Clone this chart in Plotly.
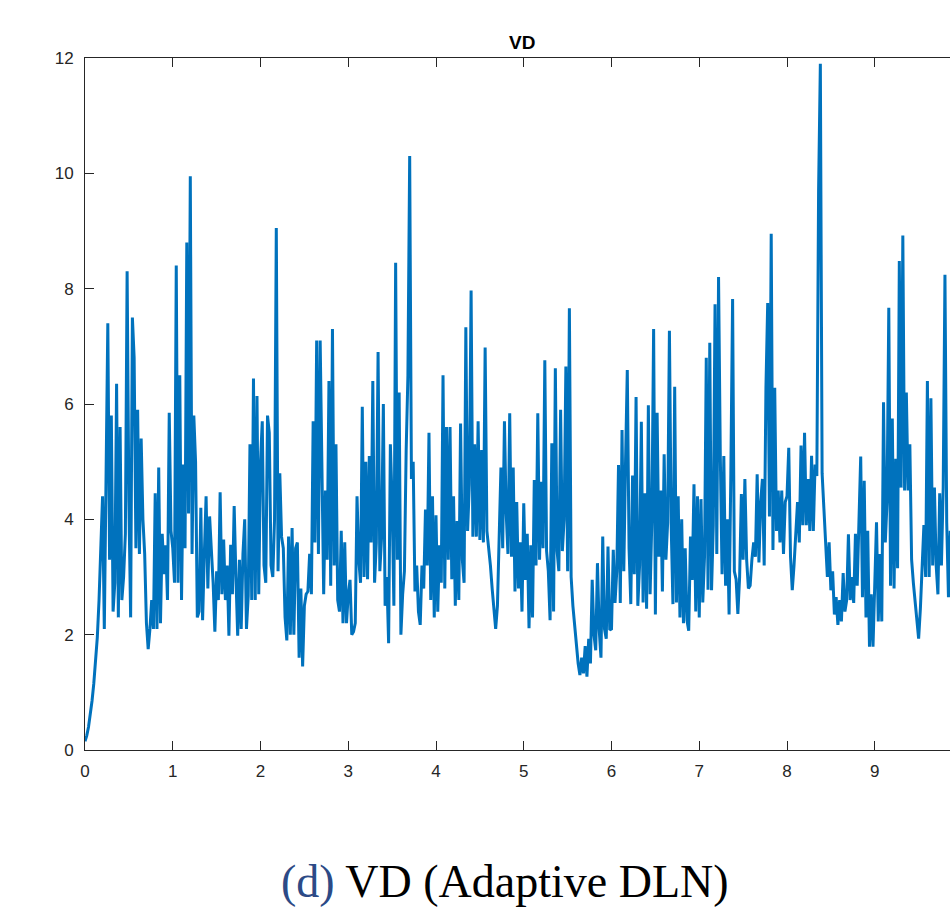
import numpy as np
import plotly.graph_objects as go

# Sampling step of the VD time series (x axis)
dt = 0.02

# VD values, one list per unit of x (50 samples each; last block shorter, cropped view)
vd_0 = [0.15, 0.25, 0.4, 0.6, 0.85, 1.15, 1.5, 1.95, 2.6, 3.7,
        4.4, 2.1, 4.65, 7.4, 3.3, 5.8, 2.4, 2.9, 6.35, 2.3,
        5.6, 2.6, 3.0, 3.75, 8.3, 4.3, 2.3, 7.5, 6.8, 3.5,
        5.9, 3.4, 5.4, 4.0, 3.4, 2.2, 1.75, 2.1, 2.6, 2.1,
        4.45, 2.1, 4.9, 2.2, 3.75, 3.05, 3.55, 2.6, 5.85, 3.8]
vd_1 = [3.5, 2.9, 8.4, 2.9, 6.5, 2.6, 4.95, 3.5, 8.8, 4.1,
        9.95, 3.4, 5.8, 5.0, 2.3, 2.4, 4.2, 2.25, 3.4, 4.4,
        2.8, 4.05, 3.47, 2.9, 2.05, 3.1, 2.6, 4.47, 2.7, 3.65,
        2.6, 3.2, 1.98, 3.56, 2.7, 4.23, 3.0, 1.98, 3.3, 2.1,
        3.4, 4.0, 2.1, 2.67, 5.3, 2.6, 6.44, 2.6, 6.14, 2.7]
vd_2 = [5.0, 5.7, 3.2, 2.9, 5.8, 5.5, 3.2, 3.0, 4.0, 9.05,
        3.1, 4.8, 3.7, 3.5, 2.3, 1.9, 3.7, 2.0, 3.85, 2.0,
        3.5, 3.6, 1.6, 2.8, 1.45, 2.5, 2.7, 2.75, 3.4, 2.7,
        5.7, 3.6, 7.1, 3.4, 7.1, 4.6, 2.7, 4.5, 3.3, 6.4,
        2.85, 7.3, 3.2, 5.3, 2.6, 2.4, 3.8, 2.2, 3.6, 2.2]
vd_3 = [2.7, 2.95, 2.0, 2.05, 2.2, 4.4, 3.3, 2.9, 5.95, 3.0,
        5.0, 2.96, 5.1, 3.6, 6.4, 2.9, 3.6, 6.9, 3.1, 3.7,
        6.0, 2.5, 3.0, 1.85, 5.3, 4.3, 2.5, 8.45, 3.3, 6.2,
        2.0, 2.7, 3.1, 5.2, 6.5, 10.3, 4.7, 5.0, 2.75, 3.2,
        2.4, 2.17, 3.2, 2.8, 4.17, 3.2, 5.5, 2.6, 4.4, 2.3]
vd_4 = [4.07, 2.4, 3.55, 2.9, 6.5, 2.8, 5.6, 3.3, 5.6, 2.96,
        4.4, 2.5, 3.97, 2.6, 5.66, 3.3, 2.9, 7.33, 3.8, 4.6,
        7.97, 3.7, 5.3, 3.7, 5.7, 3.64, 5.2, 3.6, 6.98, 3.8,
        3.55, 3.2, 2.8, 2.5, 2.1, 2.5, 3.8, 4.9, 3.5, 5.7,
        4.1, 3.4, 5.84, 3.35, 4.9, 2.75, 4.3, 2.8, 3.6, 2.4]
vd_5 = [4.28, 2.95, 3.75, 2.11, 3.55, 2.3, 4.68, 3.2, 5.84, 3.3,
        4.65, 3.5, 6.76, 3.45, 3.1, 2.25, 5.32, 2.4, 6.62, 3.45,
        3.1, 5.9, 3.45, 4.0, 6.65, 3.1, 7.66, 3.0, 2.5, 2.13,
        1.8, 1.5, 1.3, 1.6, 1.33, 1.8, 1.27, 1.93, 1.5, 2.95,
        2.0, 1.73, 3.24, 2.08, 1.6, 3.7, 2.1, 1.93, 3.53, 2.08]
vd_6 = [2.1, 3.47, 2.55, 3.1, 4.94, 2.55, 5.55, 3.1, 5.0, 6.59,
        3.5, 2.53, 4.76, 3.05, 6.12, 2.5, 3.2, 5.69, 2.56, 4.45,
        2.45, 5.98, 2.7, 4.0, 7.3, 2.35, 5.85, 3.35, 4.5, 2.75,
        5.13, 3.3, 3.95, 7.27, 3.9, 2.53, 6.3, 2.56, 4.4, 2.3,
        4.0, 2.2, 3.5, 2.25, 2.07, 3.7, 2.95, 4.61, 2.4, 4.4]
vd_7 = [2.3, 4.35, 2.56, 3.35, 6.8, 2.78, 7.06, 2.77, 3.9, 7.73,
        3.4, 8.2, 5.1, 3.05, 5.1, 2.85, 4.0, 2.35, 4.8, 7.82,
        3.1, 2.96, 2.36, 3.0, 4.44, 3.3, 4.7, 3.3, 2.8, 2.85,
        3.3, 3.6, 3.35, 4.78, 3.25, 4.3, 4.7, 3.2, 6.28, 7.75,
        4.05, 8.95, 3.47, 6.28, 3.8, 4.5, 3.6, 4.5, 3.4, 4.3]
vd_8 = [4.4, 5.24, 3.35, 2.77, 3.2, 3.7, 4.3, 3.6, 5.28, 3.9,
        5.5, 3.9, 4.7, 3.8, 5.1, 3.8, 4.95, 4.75, 9.7, 11.9,
        4.8, 4.2, 3.47, 3.0, 3.6, 2.77, 3.1, 2.35, 2.65, 2.17,
        2.6, 2.23, 3.07, 2.4, 2.6, 3.74, 2.6, 3.0, 2.55, 3.75,
        2.85, 3.95, 5.09, 2.65, 4.67, 2.3, 3.8, 1.79, 2.7, 1.79]
vd_9 = [2.8, 3.95, 2.23, 3.4, 2.23, 6.03, 3.6, 4.3, 7.67, 2.85,
        5.75, 2.8, 5.05, 3.15, 8.48, 4.55, 8.92, 4.5, 6.2, 4.5,
        5.3, 3.3, 2.9, 2.55, 2.2, 1.93, 2.45, 3.15, 3.9, 3.0,
        6.4, 3.0, 6.1, 3.2, 4.55, 3.2, 2.7, 4.45, 3.2, 4.55,
        8.24, 3.95, 2.65, 3.8]

vd = vd_0 + vd_1 + vd_2 + vd_3 + vd_4 + vd_5 + vd_6 + vd_7 + vd_8 + vd_9
t = [round(i * dt, 2) for i in range(len(vd))]

x_ticks = list(range(0, 10))
y_ticks = list(range(0, 13, 2))

title_text = "VD"
caption_label = "(d)"
caption_text = "VD (Adaptive DLN)"

axis_color = "#262626"
tick_font = dict(family="Liberation Sans, Arial, sans-serif", size=17, color=axis_color)

fig = go.Figure()
fig.add_trace(go.Scatter(x=t, y=vd, mode="lines",
                         line=dict(color="#0072BD", width=3),
                         showlegend=False, hoverinfo="skip"))

fig.update_layout(
    width=950, height=922,
    margin=dict(l=85, r=0, t=58, b=172),
    paper_bgcolor="white", plot_bgcolor="white",
    xaxis=dict(range=[0, 865 / 87.75], tickvals=x_ticks, ticktext=[str(v) for v in x_ticks],
               ticks="inside", ticklen=9, tickcolor=axis_color, tickwidth=1,
               showline=True, linecolor=axis_color, linewidth=1, mirror="ticks",
               showgrid=False, zeroline=False, tickfont=tick_font, ticklabelstandoff=6),
    yaxis=dict(range=[0, 12], tickvals=y_ticks, ticktext=[str(v) for v in y_ticks],
               ticks="inside", ticklen=9, tickcolor=axis_color, tickwidth=1,
               showline=True, linecolor=axis_color, linewidth=1, mirror=False,
               showgrid=False, zeroline=False, tickfont=tick_font, ticklabelstandoff=7),
    annotations=[
        dict(text="<b>" + title_text + "</b>", xref="paper", yref="paper",
             x=(522 - 85) / 865, y=1 + (58 - 42) / 692, xanchor="center", yanchor="middle",
             showarrow=False, font=dict(family="Liberation Sans, Arial, sans-serif", size=19, color="black")),
        dict(text="<span style='color:#2c4a86'>" + caption_label + "</span> " + caption_text,
             xref="paper", yref="paper",
             x=(505 - 85) / 865, y=-(881 - 750) / 692, xanchor="center", yanchor="middle",
             showarrow=False, font=dict(family="Liberation Serif, Times New Roman, serif", size=46, color="black")),
    ],
)

fig.write_html("out.html")
